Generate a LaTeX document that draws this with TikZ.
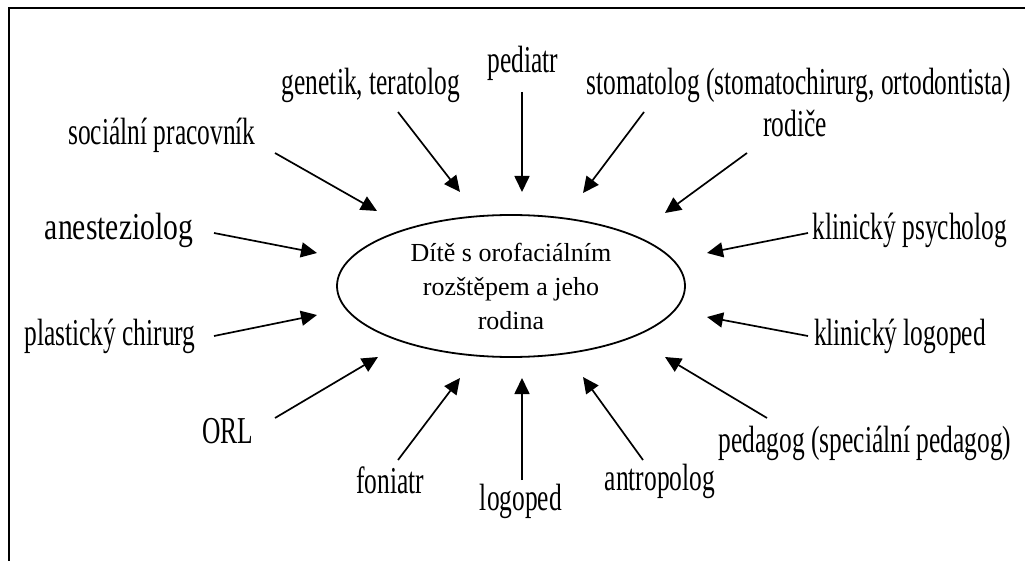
\documentclass[tikz,border=0pt]{standalone}
\usepackage{fontspec}
\setmainfont{Liberation Serif}
\newfontfamily\narrowserif[FakeStretch=0.67]{Liberation Serif}
\newfontfamily\wideserif[FakeStretch=0.78]{Liberation Serif}
\usetikzlibrary{arrows.meta,positioning,shapes.geometric}

\begin{document}
\begin{tikzpicture}[
      x=1pt,y=-1pt,
      role/.style={anchor=base,inner sep=0pt,
        font=\narrowserif\fontsize{38}{44}\selectfont},
      wide role/.style={role,font=\wideserif\fontsize{38}{44}\selectfont},
      centre/.style={ellipse,draw,line width=1.8pt,align=center,inner sep=0pt,
        minimum width=348pt,minimum height=142pt,font=\fontsize{26}{34}\selectfont},
      arrow/.style={-{Triangle[length=16pt,width=15pt]},line width=1.7pt}
    ]
      \useasboundingbox (0,0) rectangle (1025,561);
      \draw[line width=2.2pt] (1025,8) -- (9,8) -- (9,561);

      \node[centre] (child) at (511,286) {Dítě s orofaciálním\\rozštěpem a jeho\\rodina};

      \node[role] (social) at (162,145) {sociální pracovník};
      \node[role] (genetic) at (371,95) {genetik, teratolog};
      \node[role] (pediatr) at (523,73) {pediatr};
      \node[role] (stomat) at (799,95) {stomatolog (stomatochirurg, ortodontista)};
      \node[role] (parents) at (795,137) {rodiče};
      \node[wide role] (anest) at (119,240) {anesteziolog};
      \node[role] (psych) at (910,240) {klinický psycholog};
      \node[role] (plastic) at (110,345) {plastický chirurg};
      \node[role] (clinlog) at (900,345) {klinický logoped};
      \node[role] (orl) at (228,443) {ORL};
      \node[role] (pedag) at (865,452) {pedagog (speciální pedagog)};
      \node[role] (foniatr) at (390,493) {foniatr};
      \node[role] (logoped) at (521,510) {logoped};
      \node[role] (anthro) at (660,490) {antropolog};

      \coordinate (socialA) at (275,153);  \coordinate (socialB) at (377,211);
      \coordinate (geneticA) at (398,112); \coordinate (geneticB) at (460,192);
      \coordinate (pediatrA) at (522,92);  \coordinate (pediatrB) at (522,192);
      \coordinate (stomatA) at (644,112);  \coordinate (stomatB) at (583,193);
      \coordinate (parentsA) at (747,153); \coordinate (parentsB) at (665,213);
      \coordinate (anestA) at (214,233);   \coordinate (anestB) at (317,253);
      \coordinate (psychA) at (808,233);   \coordinate (psychB) at (707,253);
      \coordinate (plasticA) at (214,336); \coordinate (plasticB) at (317,315);
      \coordinate (clinlogA) at (808,336); \coordinate (clinlogB) at (707,317);
      \coordinate (orlA) at (275,418);     \coordinate (orlB) at (378,357);
      \coordinate (pedagA) at (767,418);   \coordinate (pedagB) at (665,357);
      \coordinate (foniatrA) at (398,460); \coordinate (foniatrB) at (460,378);
      \coordinate (logopedA) at (522,480); \coordinate (logopedB) at (522,378);
      \coordinate (anthroA) at (643,460);  \coordinate (anthroB) at (583,377);

      \draw[arrow] (socialA) -- (socialB);
      \draw[arrow] (geneticA) -- (geneticB);
      \draw[arrow] (pediatrA) -- (pediatrB);
      \draw[arrow] (stomatA) -- (stomatB);
      \draw[arrow] (parentsA) -- (parentsB);
      \draw[arrow] (anestA) -- (anestB);
      \draw[arrow] (psychA) -- (psychB);
      \draw[arrow] (plasticA) -- (plasticB);
      \draw[arrow] (clinlogA) -- (clinlogB);
      \draw[arrow] (orlA) -- (orlB);
      \draw[arrow] (pedagA) -- (pedagB);
      \draw[arrow] (foniatrA) -- (foniatrB);
      \draw[arrow] (logopedA) -- (logopedB);
      \draw[arrow] (anthroA) -- (anthroB);
    \end{tikzpicture}
\end{document}
